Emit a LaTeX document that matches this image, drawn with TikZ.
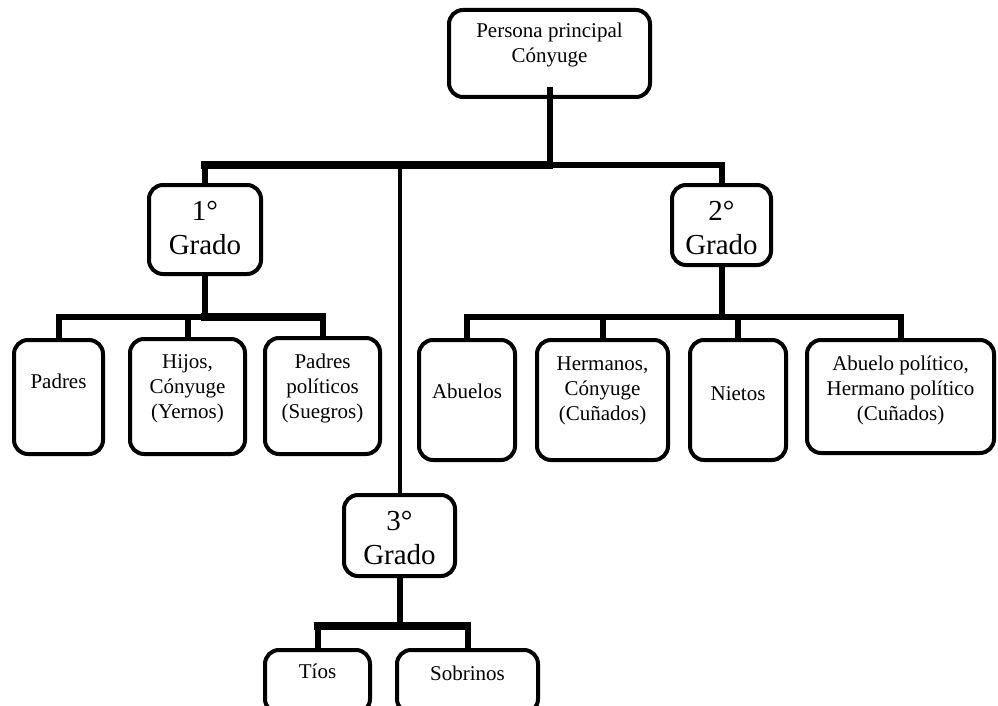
\documentclass[tikz,border=0pt]{standalone}
\usepackage{fontspec}
\setmainfont{Liberation Serif}
\usetikzlibrary{calc}
\tikzset{
  box/.style={draw, line width=4pt, rounded corners=14pt, inner sep=0pt},
  conn/.style={line width=6pt},
  thickconn/.style={line width=7.5pt, line cap=rect},
  hconn/.style={line width=6pt, line cap=rect},
  thinconn/.style={line width=4pt},
  txt/.style={anchor=base, inner sep=0pt, font=\fontsize{21}{25}\selectfont},
  bigtxt/.style={anchor=base, inner sep=0pt, font=\fontsize{29}{34}\selectfont}
}
\begin{document}
\begin{tikzpicture}[x=1pt, y=-1pt]
\fill[white] (0,0) rectangle (998,706);
\clip (0,0) rectangle (998,706);
% boxes
\node[box, minimum width=201pt, minimum height=87pt] (top) at (549.5,53.5) {};
\node[box, minimum width=112pt, minimum height=89pt] (g1) at (205,229.5) {};
\node[box, minimum width=99pt, minimum height=80pt] (g2) at (721.5,225) {};
\node[box, minimum width=111pt, minimum height=81pt] (g3) at (399.5,535.5) {};
\node[box, minimum width=89pt, minimum height=114pt] (padres) at (58.5,397) {};
\node[box, minimum width=115pt, minimum height=115pt] (hijos) at (187.5,396.5) {};
\node[box, minimum width=115pt, minimum height=116pt] (ppol) at (322.5,396) {};
\node[box, minimum width=96pt, minimum height=120pt] (abuelos) at (467,400) {};
\node[box, minimum width=131pt, minimum height=120pt] (hermanos) at (602.5,400) {};
\node[box, minimum width=96pt, minimum height=120pt] (nietos) at (738,400) {};
\node[box, minimum width=187pt, minimum height=113pt] (apol) at (900.5,396.5) {};
\node[box, minimum width=105pt, minimum height=63pt] (tios) at (317.5,681.5) {};
\node[box, minimum width=141pt, minimum height=63pt] (sobrinos) at (467.5,681.5) {};
% texts
\node[txt] (t-top) at (549.5,38) {\begin{tabular}[t]{@{}c@{}}Persona principal\\Cónyuge\end{tabular}};
\node[bigtxt] (t-g1) at (205,220) {\begin{tabular}[t]{@{}c@{}}1°\\Grado\end{tabular}};
\node[bigtxt] (t-g2) at (721.5,220) {\begin{tabular}[t]{@{}c@{}}2°\\Grado\end{tabular}};
\node[bigtxt] (t-g3) at (399.5,530) {\begin{tabular}[t]{@{}c@{}}3°\\Grado\end{tabular}};
\node[txt] (t-padres) at (58.5,388) {Padres};
\node[txt] (t-hijos) at (187.5,368) {\begin{tabular}[t]{@{}c@{}}Hijos,\\Cónyuge\\(Yernos)\end{tabular}};
\node[txt] (t-ppol) at (322.5,368) {\begin{tabular}[t]{@{}c@{}}Padres\\políticos\\(Suegros)\end{tabular}};
\node[txt] (t-abuelos) at (467,398) {Abuelos};
\node[txt] (t-hermanos) at (602.5,370) {\begin{tabular}[t]{@{}c@{}}Hermanos,\\Cónyuge\\(Cuñados)\end{tabular}};
\node[txt] (t-nietos) at (738,400) {Nietos};
\node[txt] (t-apol) at (900.5,370) {\begin{tabular}[t]{@{}c@{}}Abuelo político,\\Hermano político\\(Cuñados)\end{tabular}};
\node[txt] (t-tios) at (317.5,678) {Tíos};
\node[txt] (t-sobrinos) at (467.5,680) {Sobrinos};
% junctions
\coordinate (j0) at (550,165);
\coordinate (j1) at (206,317);
\coordinate (j2) at (722,317);
\coordinate (j3) at (399,626);
% top level
\draw[conn] ($(top.south)+(0,-12)$) -- (top.south |- j0);
\draw[thickconn] (g1.north |- j0) -- (top.south |- j0);
\draw[hconn] (top.south |- j0) -- (g2.north |- j0);
\draw[conn] (g1.north |- j0) -- (g1.north);
\draw[conn] (g2.north |- j0) -- (g2.north);
\draw[thinconn] (g3.north |- j0) -- (g3.north);
% first degree
\draw[conn] (g1.south) -- (g1.south |- j1);
\draw[hconn] (padres.north |- j1) -- (g1.south |- j1);
\draw[thickconn] (g1.south |- j1) -- (ppol.north |- j1);
\draw[conn] (padres.north |- j1) -- (padres.north);
\draw[conn] (hijos.north |- j1) -- (hijos.north);
\draw[conn] (ppol.north |- j1) -- (ppol.north);
% second degree
\draw[conn] (g2.south) -- (g2.south |- j2);
\draw[hconn] (abuelos.north |- j2) -- (apol.north |- j2);
\draw[conn] (abuelos.north |- j2) -- (abuelos.north);
\draw[conn] (hermanos.north |- j2) -- (hermanos.north);
\draw[conn] (nietos.north |- j2) -- (nietos.north);
\draw[conn] (apol.north |- j2) -- (apol.north);
% third degree
\draw[conn] (g3.south) -- (g3.south |- j3);
\draw[thickconn] (tios.north |- j3) -- (sobrinos.north |- j3);
\draw[conn] (tios.north |- j3) -- (tios.north);
\draw[conn] (sobrinos.north |- j3) -- (sobrinos.north);
\end{tikzpicture}
\end{document}
